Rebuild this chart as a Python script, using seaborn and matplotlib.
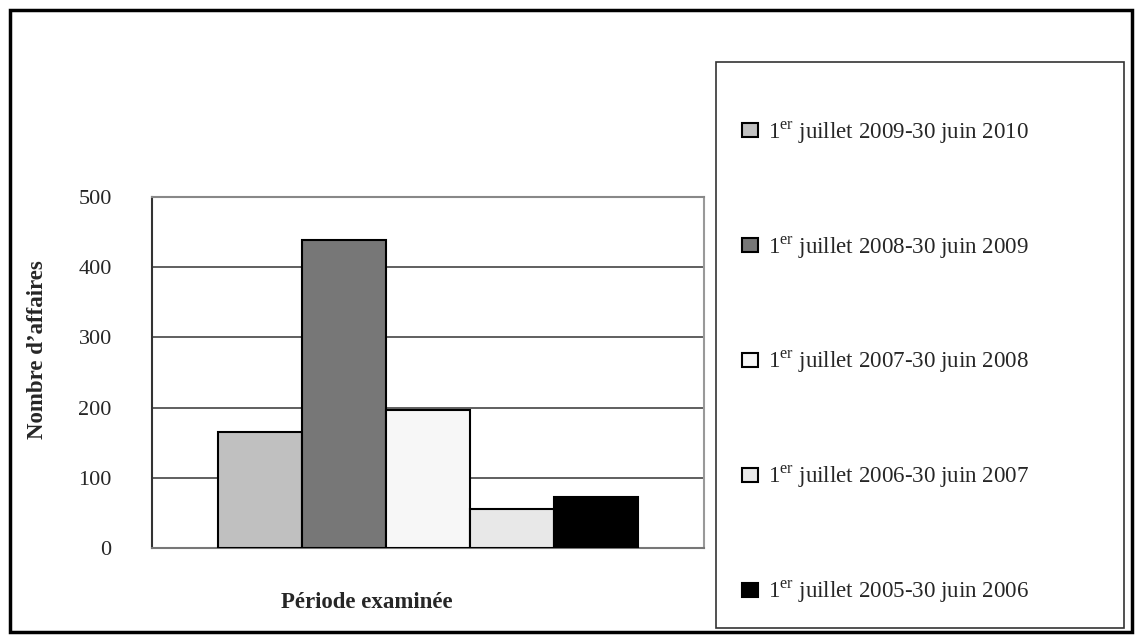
import matplotlib
matplotlib.use("Agg")
import matplotlib.pyplot as plt
import seaborn as sns
import pandas as pd
from matplotlib.patches import Rectangle, Patch

periods = [
    "1$^{\\mathrm{er}}$ juillet 2009-30 juin 2010",
    "1$^{\\mathrm{er}}$ juillet 2008-30 juin 2009",
    "1$^{\\mathrm{er}}$ juillet 2007-30 juin 2008",
    "1$^{\\mathrm{er}}$ juillet 2006-30 juin 2007",
    "1$^{\\mathrm{er}}$ juillet 2005-30 juin 2006",
]
values = [165, 439, 197, 55, 73]
colors = ["#c0c0c0", "#777777", "#f7f7f7", "#e8e8e8", "#000000"]
yticks = [0, 100, 200, 300, 400, 500]

sns.set_style("white")
plt.rcParams["font.family"] = ["Liberation Serif", "DejaVu Serif"]
plt.rcParams["mathtext.fontset"] = "custom"
plt.rcParams["mathtext.rm"] = "Liberation Serif"

df = pd.DataFrame({"grp": [""] * len(values), "period": periods, "value": values})

W, H = 1142, 642
fig = plt.figure(figsize=(W / 100, H / 100), dpi=100)
ax = fig.add_axes([152 / W, (H - 548) / H, 552 / W, 351 / H])

sns.barplot(data=df, x="grp", y="value", hue="period", hue_order=periods,
            palette=colors, width=0.76, gap=0, edgecolor="black", linewidth=1.5,
            legend=False, ax=ax, zorder=3)

ax.set_xlim(-0.5, 0.5)
ax.set_ylim(0, 500)
ax.set_yticks(yticks)
ax.set_yticklabels([str(t) for t in yticks], fontsize=16)
ax.set_xticks([])
ax.set_xlabel("")
ax.set_ylabel("")
for y in yticks[1:-1]:
    ax.axhline(y, color="#444444", lw=1.2, zorder=1)
ax.tick_params(axis="y", direction="out", length=8, width=1.2, color="#333333", pad=21)
for side, c in [("top", "#888888"), ("right", "#999999"), ("bottom", "#777777"), ("left", "#333333")]:
    ax.spines[side].set_visible(True)
    ax.spines[side].set_color(c)
    ax.spines[side].set_linewidth(1.5)

fig.text(38 / W, 1 - 350 / H, "Nombre d\u2019affaires", rotation=90, ha="center", va="center",
         fontsize=16.5, fontweight="bold")
fig.text(367 / W, 1 - 602 / H, "Période examinée", ha="center", va="center",
         fontsize=16.5, fontweight="bold")

# outer border
fig.patches.append(Rectangle((10 / W, 1 - 632 / H), 1122 / W, 622 / H, transform=fig.transFigure,
                             fill=False, edgecolor="black", linewidth=2.5))
# legend box
fig.patches.append(Rectangle((716 / W, 1 - 628 / H), 408 / W, 566 / H, transform=fig.transFigure,
                             fill=False, edgecolor="#333333", linewidth=1.2))

handles = [Patch(facecolor=c, edgecolor="black", linewidth=1.5) for c in colors]
leg = fig.legend(handles, periods, loc="upper left", bbox_to_anchor=(733 / W, 1 - 110 / H),
                 frameon=False, fontsize=16.6, handlelength=0.7, handleheight=0.57,
                 handletextpad=0.4, labelspacing=3.84, borderaxespad=0)

fig.savefig("out.png", dpi=100, facecolor="white")
